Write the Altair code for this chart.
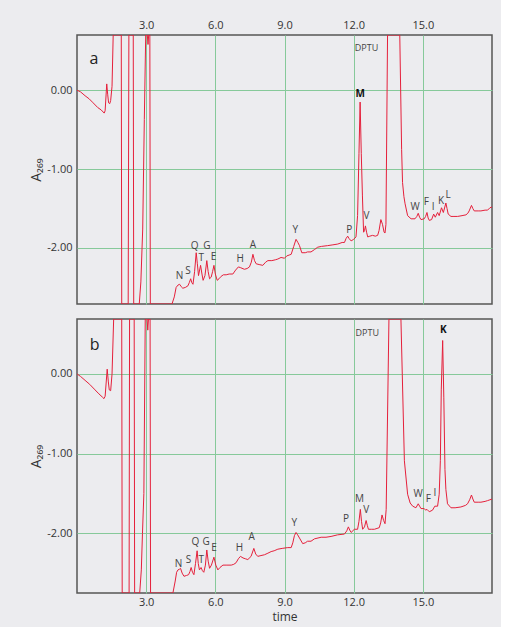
import altair as alt
import pandas as pd

# ---------------- data: chromatogram a ----------------
t_a = [0.00, 0.15, 0.35, 0.53, 0.70, 0.90, 1.05, 1.18, 1.22, 1.29, 1.33, 1.37, 1.42, 1.46, 1.52, 1.57,
       1.92, 1.94, 2.22, 2.25, 2.44, 2.46, 2.70, 2.77, 2.85, 2.92, 2.98, 3.05, 3.08, 3.11, 3.16, 3.18,
       4.12, 4.22, 4.30, 4.38, 4.45, 4.52, 4.59, 4.70, 4.81, 4.87, 4.93, 4.98, 5.03, 5.10, 5.17, 5.22,
       5.27, 5.36, 5.42, 5.47, 5.55, 5.63, 5.69, 5.75, 5.82, 5.88, 5.94, 6.00, 6.08, 6.16, 6.25, 6.35,
       6.47, 6.60, 6.76, 6.88, 7.00, 7.10, 7.26, 7.38, 7.48, 7.56, 7.63, 7.70, 7.77, 7.90, 8.06, 8.18,
       8.28, 8.45, 8.60, 8.71, 8.85, 9.00, 9.10, 9.20, 9.29, 9.40, 9.50, 9.58, 9.65, 9.75, 9.90, 10.00,
       10.15, 10.30, 10.44, 10.60, 10.87, 11.10, 11.31, 11.50, 11.60, 11.67, 11.74, 11.80, 11.89, 12.00,
       12.10, 12.17, 12.23, 12.28, 12.33, 12.38, 12.43, 12.47, 12.51, 12.56, 12.61, 12.70, 12.82, 12.94,
       13.04, 13.10, 13.18, 13.25, 13.32, 13.36, 13.40, 13.47, 14.00, 14.08, 14.12, 14.18, 14.23, 14.34,
       14.49, 14.66, 14.74, 14.80, 14.86, 14.92, 15.06, 15.12, 15.18, 15.23, 15.28, 15.38, 15.47, 15.54,
       15.64, 15.71, 15.81, 15.89, 16.00, 16.05, 16.10, 16.22, 16.35, 16.51, 16.70, 16.87, 16.95, 17.01,
       17.11, 17.17, 17.23, 17.40, 17.52, 17.70, 17.81, 17.91, 18.00]
v_a = [0.00, -0.02, -0.07, -0.11, -0.16, -0.22, -0.25, -0.29, -0.26, 0.08, -0.05, -0.16, -0.17, -0.13, 0.05, 0.70,
       0.70, -2.71, -2.71, 0.70, 0.70, -2.71, -2.71, -2.43, -1.76, -0.37, 0.70, 0.70, 0.58, 0.70, 0.70, -2.71,
       -2.71, -2.62, -2.50, -2.47, -2.46, -2.49, -2.51, -2.50, -2.48, -2.44, -2.39, -2.44, -2.46, -2.30, -2.06, -2.20,
       -2.35, -2.22, -2.33, -2.41, -2.35, -2.16, -2.30, -2.39, -2.37, -2.30, -2.22, -2.33, -2.41, -2.39, -2.36, -2.34,
       -2.34, -2.33, -2.33, -2.28, -2.24, -2.25, -2.27, -2.26, -2.24, -2.18, -2.08, -2.16, -2.20, -2.21, -2.22, -2.18,
       -2.16, -2.16, -2.15, -2.14, -2.12, -2.13, -2.10, -2.09, -2.08, -1.98, -1.89, -1.93, -1.97, -2.06, -2.06, -2.05,
       -2.05, -2.02, -1.99, -1.98, -1.97, -1.96, -1.95, -1.93, -1.93, -1.88, -1.85, -1.88, -1.91, -1.89,
       -1.86, -1.59, -0.80, -0.15, -0.80, -1.34, -1.80, -1.78, -1.72, -1.80, -1.86, -1.85, -1.84, -1.85,
       -1.84, -1.78, -1.64, -1.70, -1.80, -1.81, -1.70, 0.70, 0.70, -0.75, -1.17, -1.35, -1.44, -1.59,
       -1.63, -1.63, -1.60, -1.56, -1.61, -1.64, -1.63, -1.60, -1.55, -1.62, -1.65, -1.64, -1.57, -1.61,
       -1.55, -1.59, -1.49, -1.55, -1.43, -1.50, -1.57, -1.60, -1.60, -1.60, -1.59, -1.58, -1.56, -1.53,
       -1.46, -1.50, -1.53, -1.53, -1.53, -1.52, -1.52, -1.49, -1.48]

# ---------------- data: chromatogram b ----------------
t_b = [0.00, 0.15, 0.35, 0.55, 0.75, 0.95, 1.10, 1.17, 1.22, 1.31, 1.36, 1.40, 1.46, 1.52, 1.59,
       1.94, 1.96, 2.26, 2.28, 2.48, 2.50, 2.72, 2.79, 2.84, 2.90, 2.96, 3.04, 3.07, 3.10, 3.17, 3.19,
       4.16, 4.26, 4.32, 4.38, 4.45, 4.49, 4.56, 4.64, 4.75, 4.84, 4.90, 4.95, 5.01, 5.07, 5.14, 5.21,
       5.26, 5.31, 5.38, 5.44, 5.50, 5.57, 5.63, 5.69, 5.75, 5.83, 5.94, 6.02, 6.11, 6.20, 6.33, 6.50,
       6.69, 6.80, 6.90, 7.00, 7.09, 7.20, 7.30, 7.41, 7.55, 7.67, 7.75, 7.84, 7.98, 8.13, 8.28, 8.42,
       8.55, 8.71, 8.90, 9.14, 9.29, 9.36, 9.43, 9.50, 9.57, 9.65, 9.79, 9.90, 10.00, 10.15, 10.30, 10.59,
       10.80, 11.02, 11.30, 11.60, 11.70, 11.77, 11.83, 11.89, 12.03, 12.17, 12.23, 12.29, 12.34, 12.39,
       12.47, 12.54, 12.59, 12.64, 12.78, 12.90, 13.11, 13.17, 13.23, 13.30, 13.36, 13.41, 13.53, 14.05,
       14.20, 14.34, 14.45, 14.56, 14.70, 14.80, 14.86, 14.92, 15.06, 15.12, 15.18, 15.28, 15.42, 15.52,
       15.64, 15.71, 15.76, 15.80, 15.86, 15.91, 15.96, 16.00, 16.07, 16.22, 16.40, 16.65, 16.85, 16.94,
       17.03, 17.11, 17.17, 17.23, 17.40, 17.52, 17.70, 17.81, 17.91, 18.00]
v_b = [0.00, -0.03, -0.08, -0.13, -0.19, -0.25, -0.29, -0.31, -0.28, 0.06, -0.10, -0.20, -0.21, 0.00, 0.69,
       0.69, -2.75, -2.75, 0.69, 0.69, -2.75, -2.75, -2.46, -2.00, -1.50, 0.69, 0.69, 0.55, 0.69, 0.69, -2.75,
       -2.75, -2.60, -2.49, -2.46, -2.45, -2.44, -2.50, -2.54, -2.53, -2.52, -2.48, -2.43, -2.49, -2.52, -2.38, -2.22,
       -2.38, -2.46, -2.43, -2.47, -2.49, -2.40, -2.21, -2.35, -2.44, -2.40, -2.30, -2.40, -2.46, -2.43, -2.40, -2.40,
       -2.40, -2.39, -2.37, -2.32, -2.29, -2.31, -2.32, -2.33, -2.29, -2.19, -2.26, -2.29, -2.28, -2.27, -2.25, -2.23,
       -2.22, -2.20, -2.19, -2.18, -2.18, -2.12, -2.03, -1.99, -2.02, -2.06, -2.13, -2.12, -2.10, -2.10, -2.07, -2.05,
       -2.05, -2.04, -2.02, -2.01, -1.97, -1.92, -1.96, -1.99, -1.95, -1.95, -1.85, -1.70, -1.85, -1.95,
       -1.92, -1.84, -1.90, -1.95, -1.95, -1.95, -1.93, -1.87, -1.77, -1.84, -1.88, -1.70, 0.69, 0.69,
       -1.09, -1.51, -1.62, -1.66, -1.68, -1.63, -1.66, -1.69, -1.69, -1.71, -1.70, -1.73, -1.71, -1.66,
       -1.66, -1.51, -1.09, -0.20, 0.42, -0.30, -1.20, -1.45, -1.63, -1.68, -1.68, -1.67, -1.65, -1.63,
       -1.58, -1.52, -1.57, -1.61, -1.61, -1.61, -1.60, -1.59, -1.58, -1.57]

# ---------------- peak labels ----------------
lab_a_txt = ["N", "S", "Q", "T", "G", "E", "H", "A", "Y", "P", "V", "W", "F", "I", "K", "L"]
lab_a_t = [4.45, 4.81, 5.10, 5.39, 5.63, 5.92, 7.08, 7.63, 9.47, 11.81, 12.56, 14.66, 15.15, 15.45, 15.79, 16.10]
lab_a_v = [-2.36, -2.29, -1.97, -2.13, -1.98, -2.12, -2.14, -1.96, -1.77, -1.77, -1.59, -1.48, -1.42, -1.48, -1.40, -1.33]
bold_a = ["M"]; bold_a_t = [12.28]; bold_a_v = [-0.05]

lab_b_txt = ["N", "S", "Q", "G", "T", "E", "H", "A", "Y", "P", "M", "V", "W", "F", "I"]
lab_b_t = [4.40, 4.84, 5.14, 5.60, 5.39, 5.94, 7.05, 7.58, 9.43, 11.67, 12.25, 12.54, 14.80, 15.24, 15.52]
lab_b_v = [-2.39, -2.33, -2.11, -2.11, -2.34, -2.19, -2.18, -2.05, -1.87, -1.82, -1.57, -1.71, -1.51, -1.57, -1.50]
bold_b = ["K"]; bold_b_t = [15.89]; bold_b_v = [0.55]

dptu_txt = ["DPTU"]
dptu_a_t = [12.05]; dptu_a_v = [0.54]
dptu_b_t = [12.08]; dptu_b_v = [0.52]

tag_a = ["a"]; tag_a_t = [0.74]; tag_a_v = [0.40]
tag_b = ["b"]; tag_b_t = [0.77]; tag_b_v = [0.36]

x_ticks = [3, 6, 9, 12, 15]
y_ticks = [0, -1, -2]
x_domain = [0, 18]
y_domain_a = [-2.71, 0.70]
y_domain_b = [-2.75, 0.69]

FONT = "Open Sans"
RED = "#e5203b"
GRID = "#86c99a"
BG = "#ececef"
HYPHEN_LABEL = "replace(format(datum.value, '.2f'), '\u2212', '-')"


def panel(t, v, lt, ltt, lvv, bt, btt, bvv, dt, dv, tg, tgt, tgv, ydom, height, top):
    xs = alt.Scale(domain=x_domain, nice=False, zero=False)
    ys = alt.Scale(domain=ydom, nice=False, zero=False)
    if top:
        xaxis = alt.Axis(orient="top", values=x_ticks, format=".1f", title=None, ticks=False,
                         domain=False, grid=True, gridColor=GRID, gridWidth=1, gridOpacity=1,
                         labelFont=FONT, labelFontSize=11, labelColor="#333", labelPadding=5)
    else:
        xaxis = alt.Axis(orient="bottom", values=x_ticks, format=".1f", title="time", ticks=False,
                         domain=False, grid=True, gridColor=GRID, gridWidth=1, gridOpacity=1,
                         labelFont=FONT, labelFontSize=11, labelColor="#333", labelPadding=3,
                         titleFont=FONT, titleFontSize=12, titleFontWeight="normal", titleColor="#333",
                         titlePadding=4, titleBaseline="top")
    yaxis = alt.Axis(values=y_ticks, title="A₂₆₉", ticks=False, domain=False,
                     labelExpr=HYPHEN_LABEL,
                     grid=True, gridColor=GRID, gridWidth=1, gridOpacity=1,
                     labelFont=FONT, labelFontSize=11, labelColor="#333", labelPadding=5,
                     titleFont=FONT, titleFontSize=14, titleFontWeight="normal", titleColor="#333",
                     titlePadding=3)
    df = pd.DataFrame({"time": t, "A": v})
    line = alt.Chart(df).mark_line(color=RED, strokeWidth=1, clip=True).encode(
        x=alt.X("time:Q", scale=xs, axis=xaxis),
        y=alt.Y("A:Q", scale=ys, axis=yaxis),
    )
    xe = alt.X("time:Q", scale=xs)
    ye = alt.Y("A:Q", scale=ys)
    labs = alt.Chart(pd.DataFrame({"time": ltt, "A": lvv, "txt": lt})).mark_text(
        font=FONT, fontSize=10, color="#444", baseline="middle", align="center").encode(x=xe, y=ye, text="txt:N")
    bold = alt.Chart(pd.DataFrame({"time": btt, "A": bvv, "txt": bt})).mark_text(
        font=FONT, fontSize=10, fontWeight="bold", color="#111", baseline="middle", align="center").encode(
        x=xe, y=ye, text="txt:N")
    dptu = alt.Chart(pd.DataFrame({"time": dt, "A": dv, "txt": dptu_txt})).mark_text(
        font=FONT, fontSize=9, color="#444", baseline="middle", align="left").encode(x=xe, y=ye, text="txt:N")
    tag = alt.Chart(pd.DataFrame({"time": tgt, "A": tgv, "txt": tg})).mark_text(
        font=FONT, fontSize=16, color="#222", baseline="middle", align="center").encode(x=xe, y=ye, text="txt:N")
    return alt.layer(line, labs, bold, dptu, tag).properties(width=415, height=height)


pa = panel(t_a, v_a, lab_a_txt, lab_a_t, lab_a_v, bold_a, bold_a_t, bold_a_v, dptu_a_t, dptu_a_v,
           tag_a, tag_a_t, tag_a_v, y_domain_a, 269, True)
pb = panel(t_b, v_b, lab_b_txt, lab_b_t, lab_b_v, bold_b, bold_b_t, bold_b_v, dptu_b_t, dptu_b_v,
           tag_b, tag_b_t, tag_b_v, y_domain_b, 274, False)

chart = alt.vconcat(pa, pb, spacing=13).properties(
    background=BG,
    padding={"left": 28, "top": 18, "right": 8, "bottom": 4},
).configure_view(stroke="#555", strokeWidth=1.5, fill=BG)

chart.save("out.html", embed_options={"renderer": "svg", "actions": False})
